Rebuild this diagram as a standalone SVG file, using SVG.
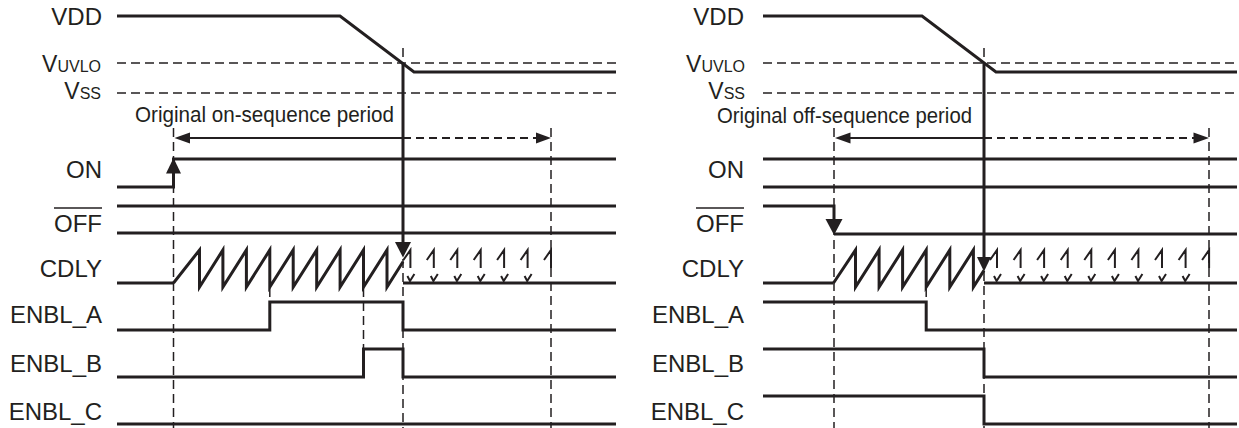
<svg xmlns="http://www.w3.org/2000/svg" width="1239" height="428" viewBox="0 0 1239 428">
<style>
.lbl{font-family:"Liberation Sans",Arial,Helvetica,sans-serif;font-size:24px;fill:#231f20}
.sub{font-size:16px}
.vv{font-size:23px}
.per{font-family:"Liberation Sans",Arial,Helvetica,sans-serif;font-size:22px;fill:#231f20}
.sig{fill:none;stroke:#231f20;stroke-width:3;stroke-linejoin:miter;stroke-miterlimit:10}
.dash{fill:none;stroke:#231f20;stroke-width:1.5;stroke-dasharray:9 5}
.thin{fill:none;stroke:#231f20;stroke-width:2}
.thind{fill:none;stroke:#231f20;stroke-width:2;stroke-dasharray:8 5}
.tooth{fill:none;stroke:#231f20;stroke-width:2}
.ah{fill:#231f20}
.ovl{stroke:#231f20;stroke-width:1.5}
</style>

<!-- ================= LEFT PANEL ================= -->
<g id="L_VDD">
  <text class="lbl" x="102" y="25" text-anchor="end">VDD</text>
  <polyline class="sig" points="117,16 340,16 414,72 616,72"/>
</g>
<g id="L_VUVLO">
  <text class="lbl" x="101" y="72" text-anchor="end"><tspan class="vv">V</tspan><tspan class="sub">UVLO</tspan></text>
  <line class="dash" x1="117" y1="63" x2="616" y2="63"/>
</g>
<g id="L_VSS">
  <text class="lbl" x="101" y="99" text-anchor="end"><tspan class="vv">V</tspan><tspan class="sub">SS</tspan></text>
  <line class="dash" x1="117" y1="93" x2="616" y2="93"/>
</g>
<g id="L_period">
  <text class="per" x="135" y="122" textLength="259" lengthAdjust="spacingAndGlyphs">Original on-sequence period</text>
</g>
<g id="L_ON">
  <text class="lbl" x="102" y="178" text-anchor="end">ON</text>
  <polyline class="sig" points="117,187 173.5,187 173.5,159 616,159"/>
</g>
<g id="L_OFF">
  <text class="lbl" x="102" y="232" text-anchor="end">OFF</text>
  <line class="ovl" x1="54" y1="208" x2="102" y2="208"/>
  <line class="sig" x1="117" y1="206" x2="616" y2="206"/>
  <line class="sig" x1="117" y1="233" x2="616" y2="233"/>
</g>
<g id="L_CDLY">
  <text class="lbl" x="102" y="277" text-anchor="end">CDLY</text>
  <line class="sig" x1="117" y1="283" x2="173.5" y2="283"/>
  <polyline class="sig" points="173.5,283 199.5,250 199.5,287 222.9,250 222.9,287 246.4,250 246.4,287 269.8,250 269.8,287 293.2,250 293.2,287 316.7,250 316.7,287 340.1,250 340.1,287 363.5,250 363.5,287 387,250 387,287 403,261.7"/>
  <line class="sig" x1="403" y1="283" x2="616" y2="283"/>
  <path class="tooth" d="M403.4,260 L410.4,250 L410.4,268 M426.8,260 L433.8,250 L433.8,268 M450.3,260 L457.3,250 L457.3,268 M473.7,260 L480.7,250 L480.7,268 M497.1,260 L504.1,250 L504.1,268 M520.6,260 L527.6,250 L527.6,268 M544,260 L551,250 L551,268"/>
  <path class="tooth" d="M407.4,276 L410,281 L414.4,274 M430.8,276 L433.4,281 L437.8,274 M454.3,276 L456.9,281 L461.3,274 M477.7,276 L480.3,281 L484.7,274 M501.1,276 L503.7,281 L508.1,274 M524.6,276 L527.2,281 L531.6,274"/>
</g>
<g id="L_ENBL_A">
  <text class="lbl" x="102" y="323" text-anchor="end">ENBL_A</text>
  <polyline class="sig" points="117,330 269.8,330 269.8,302 403,302 403,330 616,330"/>
</g>
<g id="L_ENBL_B">
  <text class="lbl" x="102" y="372" text-anchor="end">ENBL_B</text>
  <polyline class="sig" points="117,377 363.5,377 363.5,349 403,349 403,377 616,377"/>
</g>
<g id="L_ENBL_C">
  <text class="lbl" x="102" y="420" text-anchor="end">ENBL_C</text>
  <line class="sig" x1="117" y1="424" x2="616" y2="424"/>
</g>

<!-- ================= RIGHT PANEL ================= -->
<g id="R_VDD">
  <text class="lbl" x="744" y="25" text-anchor="end">VDD</text>
  <polyline class="sig" points="763,16 922,16 996,72 1237,72"/>
</g>
<g id="R_VUVLO">
  <text class="lbl" x="745" y="72" text-anchor="end"><tspan class="vv">V</tspan><tspan class="sub">UVLO</tspan></text>
  <line class="dash" x1="763" y1="63" x2="1237" y2="63"/>
</g>
<g id="R_VSS">
  <text class="lbl" x="745" y="99" text-anchor="end"><tspan class="vv">V</tspan><tspan class="sub">SS</tspan></text>
  <line class="dash" x1="763" y1="93" x2="1237" y2="93"/>
</g>
<g id="R_period">
  <text class="per" x="717" y="123" textLength="255" lengthAdjust="spacingAndGlyphs">Original off-sequence period</text>
</g>
<g id="R_ON">
  <text class="lbl" x="744" y="178" text-anchor="end">ON</text>
  <line class="sig" x1="763" y1="159" x2="1237" y2="159"/>
  <line class="sig" x1="763" y1="187" x2="1237" y2="187"/>
</g>
<g id="R_OFF">
  <text class="lbl" x="744" y="232" text-anchor="end">OFF</text>
  <line class="ovl" x1="696" y1="208" x2="744" y2="208"/>
  <polyline class="sig" points="763,206 834,206 834,222"/>
  <line class="sig" x1="834" y1="234" x2="1237" y2="234"/>
</g>
<g id="R_CDLY">
  <text class="lbl" x="744" y="277" text-anchor="end">CDLY</text>
  <line class="sig" x1="763" y1="283" x2="833.5" y2="283"/>
  <polyline class="sig" points="833.5,283 855.5,250 855.5,287 879.1,250 879.1,287 902.6,250 902.6,287 926.2,250 926.2,287 949.8,250 949.8,287 973.4,250 973.4,287 984,270.4"/>
  <line class="sig" x1="984" y1="283" x2="1237" y2="283"/>
  <path class="tooth" d="M990,260 L997,250 L997,268 M1013.6,260 L1020.6,250 L1020.6,268 M1037.1,260 L1044.1,250 L1044.1,268 M1060.7,260 L1067.7,250 L1067.7,268 M1084.3,260 L1091.3,250 L1091.3,268 M1107.9,260 L1114.9,250 L1114.9,268 M1131.4,260 L1138.4,250 L1138.4,268 M1155,260 L1162,250 L1162,268 M1178.6,260 L1185.6,250 L1185.6,268 M1202.1,260 L1209.1,250 L1209.1,268"/>
  <path class="tooth" d="M994,276 L996.6,281 L1001,274 M1017.6,276 L1020.2,281 L1024.6,274 M1041.1,276 L1043.7,281 L1048.1,274 M1064.7,276 L1067.3,281 L1071.7,274 M1088.3,276 L1090.9,281 L1095.3,274 M1111.9,276 L1114.5,281 L1118.9,274 M1135.4,276 L1138,281 L1142.4,274 M1159,276 L1161.6,281 L1166,274 M1182.6,276 L1185.2,281 L1189.6,274"/>
</g>
<g id="R_ENBL_A">
  <text class="lbl" x="744" y="323" text-anchor="end">ENBL_A</text>
  <polyline class="sig" points="763,302 926.2,302 926.2,330 1237,330"/>
</g>
<g id="R_ENBL_B">
  <text class="lbl" x="744" y="372" text-anchor="end">ENBL_B</text>
  <polyline class="sig" points="763,349 984,349 984,377 1237,377"/>
</g>
<g id="R_ENBL_C">
  <text class="lbl" x="744" y="420" text-anchor="end">ENBL_C</text>
  <polyline class="sig" points="763,396 984,396 984,424 1237,424"/>
</g>

<!-- ================= CONNECTORS ================= -->
<g id="connectors">
  <!-- left dashed guides -->
  <line class="dash" x1="173.5" y1="128" x2="173.5" y2="428"/>
  <line class="dash" x1="551" y1="128" x2="551" y2="428"/>
  <line class="dash" x1="403" y1="48" x2="403" y2="63"/>
  <line class="dash" x1="403" y1="259" x2="403" y2="428"/>
  <line class="dash" x1="269.8" y1="288" x2="269.8" y2="302"/>
  <line class="dash" x1="363.5" y1="288" x2="363.5" y2="349"/>
  <!-- left period arrow -->
  <line class="thin" x1="188" y1="138" x2="403" y2="138"/>
  <line class="thind" x1="403" y1="138" x2="538" y2="138"/>
  <polygon class="ah" points="174.5,138 190,132.5 190,143.5"/>
  <polygon class="ah" points="551,138 536,132.5 536,143.5"/>
  <!-- left ON rise arrow -->
  <polygon class="ah" points="173.5,158 166,173.5 181,173.5"/>
  <!-- left VDD→CDLY arrow -->
  <line class="sig" x1="403" y1="63" x2="403" y2="245"/>
  <polygon class="ah" points="403,257.5 395,242 411,242"/>

  <!-- right dashed guides -->
  <line class="dash" x1="834" y1="128" x2="834" y2="428"/>
  <line class="dash" x1="1209" y1="128" x2="1209" y2="428"/>
  <line class="dash" x1="984" y1="48" x2="984" y2="63"/>
  <line class="dash" x1="984" y1="272" x2="984" y2="428"/>
  <line class="dash" x1="926.2" y1="288" x2="926.2" y2="302"/>
  <!-- right period arrow -->
  <line class="thin" x1="848" y1="138" x2="984" y2="138"/>
  <line class="thind" x1="984" y1="138" x2="1196" y2="138"/>
  <polygon class="ah" points="835,138 850.5,132.5 850.5,143.5"/>
  <polygon class="ah" points="1209,138 1193.5,132.5 1193.5,143.5"/>
  <!-- right OFF fall arrow -->
  <polygon class="ah" points="834,235 825.5,219 842.5,219"/>
  <!-- right VDD→CDLY arrow -->
  <line class="sig" x1="984" y1="63" x2="984" y2="259"/>
  <polygon class="ah" points="984,271.5 977,257 991,257"/>
</g>
</svg>
